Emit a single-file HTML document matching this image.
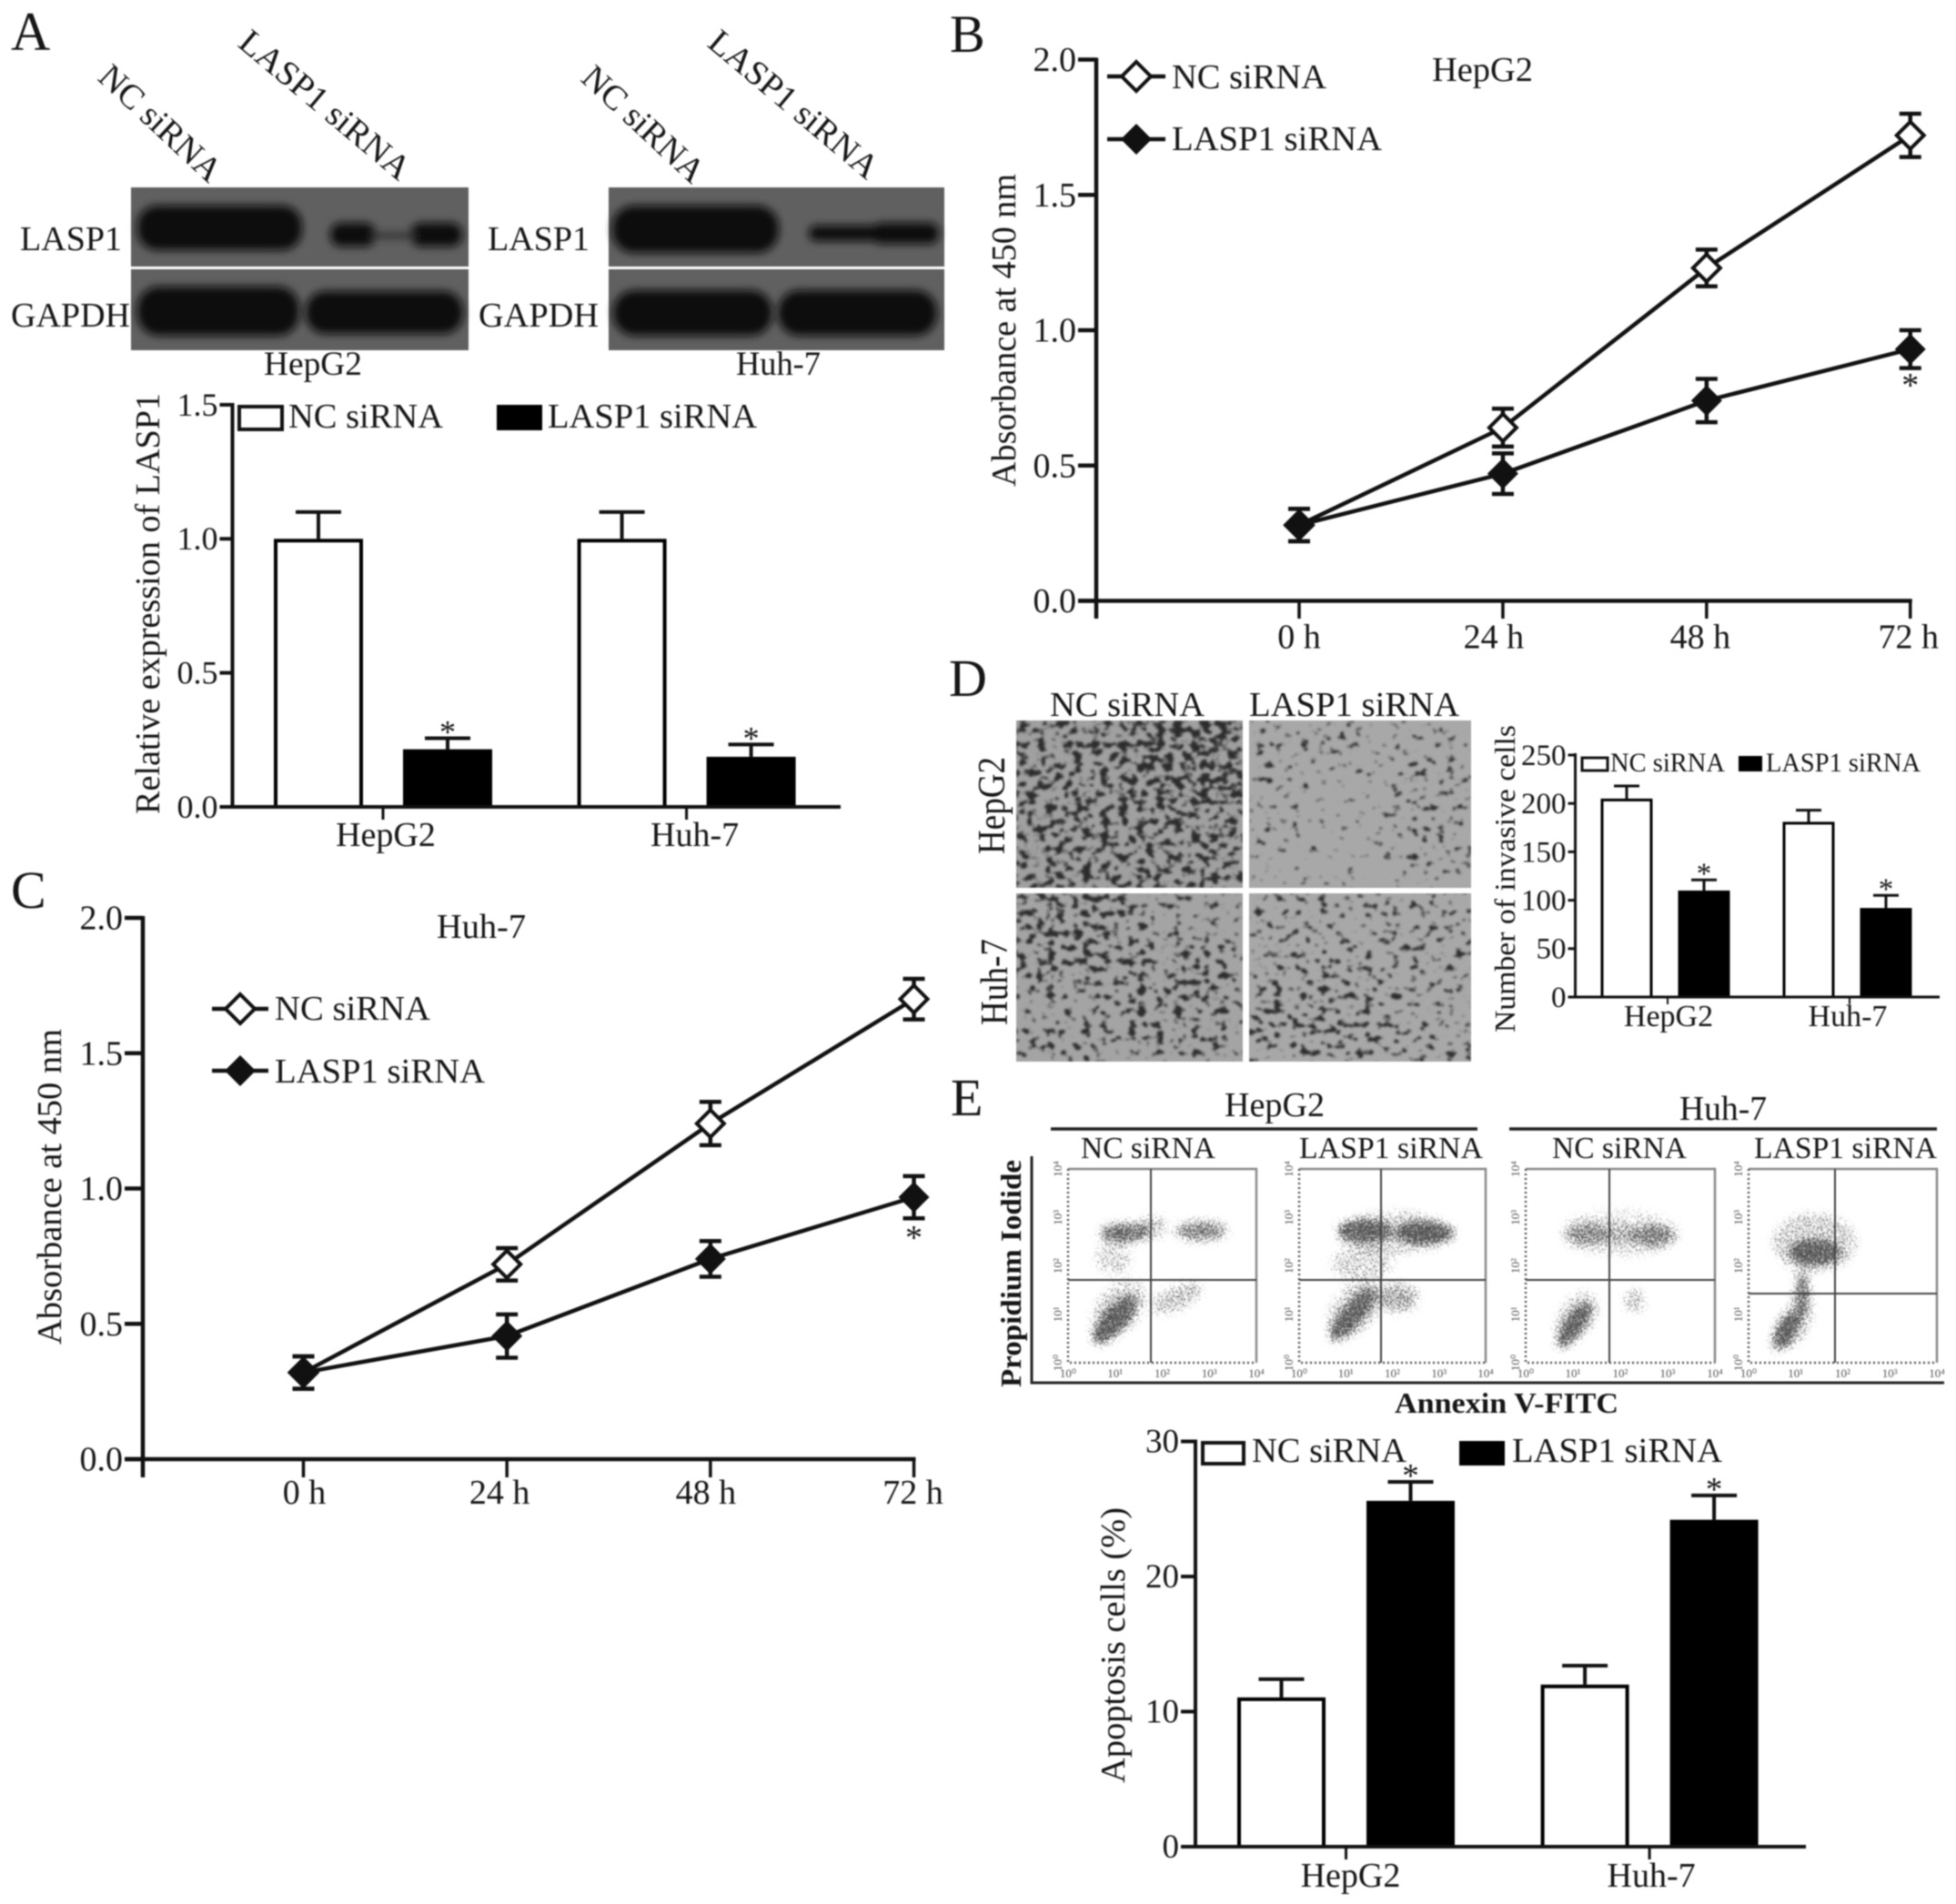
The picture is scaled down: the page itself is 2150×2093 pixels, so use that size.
<!DOCTYPE html>
<html lang="en">
<head>
<meta charset="utf-8">
<title>LASP1 siRNA figure</title>
<style>
html,body{margin:0;padding:0;background:#fff;}
svg{display:block;filter:blur(0.8px);}
text{font-family:"Liberation Serif",serif;fill:#161616;}
</style>
</head>
<body>
<svg id="figure" xmlns="http://www.w3.org/2000/svg" width="2150" height="2093" viewBox="0 0 2150 2093">
<defs>
  <filter id="bandBlur" x="-20%" y="-40%" width="140%" height="180%"><feGaussianBlur stdDeviation="4.5"/></filter>
  <filter id="cells1" filterUnits="userSpaceOnUse" x="1117" y="792" width="249" height="184" color-interpolation-filters="sRGB">
    <feGaussianBlur in="SourceGraphic" stdDeviation="12" result="b"/>
    <feTurbulence type="fractalNoise" baseFrequency="0.1 0.13" numOctaves="2" seed="4" result="n"/>
    <feComposite in="b" in2="n" operator="arithmetic" k1="0" k2="1" k3="1" k4="-1"/>
    <feComponentTransfer result="m"><feFuncA type="linear" slope="7"/></feComponentTransfer>
    <feFlood flood-color="#2c2c2c"/><feComposite in2="m" operator="in"/><feGaussianBlur stdDeviation="1"/>
  </filter>
  <filter id="cells2" filterUnits="userSpaceOnUse" x="1373" y="792" width="244" height="184" color-interpolation-filters="sRGB">
    <feGaussianBlur in="SourceGraphic" stdDeviation="12" result="b"/>
    <feTurbulence type="fractalNoise" baseFrequency="0.1 0.13" numOctaves="2" seed="11" result="n"/>
    <feComposite in="b" in2="n" operator="arithmetic" k1="0" k2="1" k3="1" k4="-1"/>
    <feComponentTransfer result="m"><feFuncA type="linear" slope="7"/></feComponentTransfer>
    <feFlood flood-color="#2c2c2c"/><feComposite in2="m" operator="in"/><feGaussianBlur stdDeviation="1"/>
  </filter>
  <filter id="cells3" filterUnits="userSpaceOnUse" x="1117" y="982" width="249" height="185" color-interpolation-filters="sRGB">
    <feGaussianBlur in="SourceGraphic" stdDeviation="12" result="b"/>
    <feTurbulence type="fractalNoise" baseFrequency="0.1 0.13" numOctaves="2" seed="23" result="n"/>
    <feComposite in="b" in2="n" operator="arithmetic" k1="0" k2="1" k3="1" k4="-1"/>
    <feComponentTransfer result="m"><feFuncA type="linear" slope="7"/></feComponentTransfer>
    <feFlood flood-color="#2c2c2c"/><feComposite in2="m" operator="in"/><feGaussianBlur stdDeviation="1"/>
  </filter>
  <filter id="cells4" filterUnits="userSpaceOnUse" x="1373" y="982" width="244" height="185" color-interpolation-filters="sRGB">
    <feGaussianBlur in="SourceGraphic" stdDeviation="12" result="b"/>
    <feTurbulence type="fractalNoise" baseFrequency="0.1 0.13" numOctaves="2" seed="37" result="n"/>
    <feComposite in="b" in2="n" operator="arithmetic" k1="0" k2="1" k3="1" k4="-1"/>
    <feComponentTransfer result="m"><feFuncA type="linear" slope="7"/></feComponentTransfer>
    <feFlood flood-color="#2c2c2c"/><feComposite in2="m" operator="in"/><feGaussianBlur stdDeviation="1"/>
  </filter>
  <filter id="stipple" filterUnits="userSpaceOnUse" x="1170" y="1280" width="965" height="225" color-interpolation-filters="sRGB">
    <feGaussianBlur in="SourceGraphic" stdDeviation="5" result="b"/>
    <feTurbulence type="fractalNoise" baseFrequency="0.6" numOctaves="2" seed="7" result="n"/>
    <feComponentTransfer in="n" result="n2"><feFuncA type="linear" slope="2.5" intercept="-0.75"/></feComponentTransfer>
    <feComposite in="b" in2="n2" operator="arithmetic" k1="0" k2="1" k3="1" k4="-1"/>
    <feComponentTransfer result="m"><feFuncA type="linear" slope="5"/></feComponentTransfer>
    <feFlood flood-color="#555555"/><feComposite in2="m" operator="in"/><feGaussianBlur stdDeviation="0.5"/>
  </filter>
</defs>
<rect width="2150" height="2093" fill="#fff"/>

<!-- Panel letters -->
<text x="12" y="55" font-size="60">A</text>
<text x="1044" y="57" font-size="58">B</text>
<text x="12" y="998" font-size="58">C</text>
<text x="1043" y="765" font-size="58">D</text>
<text x="1045" y="1226" font-size="58">E</text>

<!-- Panel A western blots -->
<g>
  <rect x="144" y="206" width="371" height="87" fill="#606060"/>
  <rect x="144" y="296" width="371" height="89" fill="#606060"/>
  <g filter="url(#bandBlur)" fill="#0f0f0f">
    <rect x="151" y="226" width="181" height="49" rx="22"/>
    <rect x="363" y="245" width="50" height="26" rx="12"/>
    <rect x="451" y="245" width="57" height="26" rx="12"/>
    <rect x="405" y="256" width="55" height="6" fill="#2a2a2a"/>
    <rect x="151" y="315" width="178" height="54" rx="24"/>
    <rect x="336" y="320" width="173" height="47" rx="22"/>
  </g>
</g>
<g>
  <rect x="669" y="206" width="369" height="87" fill="#606060"/>
  <rect x="669" y="296" width="369" height="89" fill="#606060"/>
  <g filter="url(#bandBlur)" fill="#0f0f0f">
    <rect x="673" y="226" width="183" height="52" rx="24"/>
    <rect x="889" y="248" width="141" height="17" rx="8"/>
    <rect x="958" y="245" width="74" height="23" rx="10"/>
    <rect x="674" y="319" width="175" height="50" rx="24"/>
    <rect x="855" y="319" width="175" height="50" rx="24"/>
  </g>
</g>
<text transform="translate(106,87) rotate(43)" font-size="38" textLength="169" lengthAdjust="spacingAndGlyphs">NC siRNA</text>
<text transform="translate(260,50) rotate(40)" font-size="38" textLength="233" lengthAdjust="spacingAndGlyphs">LASP1 siRNA</text>
<text transform="translate(637,88) rotate(43)" font-size="38" textLength="169" lengthAdjust="spacingAndGlyphs">NC siRNA</text>
<text transform="translate(776,50) rotate(40)" font-size="38" textLength="231" lengthAdjust="spacingAndGlyphs">LASP1 siRNA</text>
<text x="22" y="275" font-size="38" textLength="112" lengthAdjust="spacingAndGlyphs">LASP1</text>
<text x="12" y="359" font-size="38" textLength="131" lengthAdjust="spacingAndGlyphs">GAPDH</text>
<text x="536" y="275" font-size="38" textLength="112" lengthAdjust="spacingAndGlyphs">LASP1</text>
<text x="526" y="359" font-size="38" textLength="132" lengthAdjust="spacingAndGlyphs">GAPDH</text>
<text x="290" y="412" font-size="37" textLength="108" lengthAdjust="spacingAndGlyphs">HepG2</text>
<text x="809" y="412" font-size="37" textLength="93" lengthAdjust="spacingAndGlyphs">Huh-7</text>

<!-- Panel A chart text and legend -->
<text transform="translate(175,895) rotate(-90)" font-size="38" textLength="463" lengthAdjust="spacingAndGlyphs">Relative expression of LASP1</text>
<rect x="263" y="447" width="47" height="25" fill="#fff" stroke="#111" stroke-width="4"/>
<text x="317" y="470" font-size="38" textLength="170" lengthAdjust="spacingAndGlyphs">NC siRNA</text>
<rect x="546" y="445" width="50" height="28" fill="#000"/>
<text x="602" y="470" font-size="38" textLength="230" lengthAdjust="spacingAndGlyphs">LASP1 siRNA</text>

<!-- Panel B text and legend -->
<text transform="translate(1116,535) rotate(-90)" font-size="38" textLength="344" lengthAdjust="spacingAndGlyphs">Absorbance at 450 nm</text>
<text x="1574" y="89" font-size="38" textLength="111" lengthAdjust="spacingAndGlyphs">HepG2</text>
<line x1="1217" y1="84" x2="1281" y2="84" stroke="#111" stroke-width="4.5"/>
<path d="M1249 68 L1265 84 L1249 100 L1233 84 Z" fill="#fff" stroke="#111" stroke-width="4"/>
<text x="1288" y="97" font-size="38" textLength="170" lengthAdjust="spacingAndGlyphs">NC siRNA</text>
<line x1="1217" y1="153" x2="1281" y2="153" stroke="#111" stroke-width="4.5"/>
<path d="M1249 136 L1266 153 L1249 170 L1232 153 Z" fill="#111"/>
<text x="1288" y="165" font-size="38" textLength="231" lengthAdjust="spacingAndGlyphs">LASP1 siRNA</text>

<!-- Panel C text and legend -->
<text transform="translate(67,1478) rotate(-90)" font-size="38" textLength="347" lengthAdjust="spacingAndGlyphs">Absorbance at 450 nm</text>
<text x="480" y="1031" font-size="38" textLength="98" lengthAdjust="spacingAndGlyphs">Huh-7</text>
<line x1="233" y1="1109" x2="295" y2="1109" stroke="#111" stroke-width="4.5"/>
<path d="M264 1093 L280 1109 L264 1125 L248 1109 Z" fill="#fff" stroke="#111" stroke-width="4"/>
<text x="302" y="1121" font-size="38" textLength="171" lengthAdjust="spacingAndGlyphs">NC siRNA</text>
<line x1="233" y1="1177" x2="295" y2="1177" stroke="#111" stroke-width="4.5"/>
<path d="M264 1160 L281 1177 L264 1194 L247 1177 Z" fill="#111"/>
<text x="302" y="1190" font-size="38" textLength="231" lengthAdjust="spacingAndGlyphs">LASP1 siRNA</text>

<!-- Panel D micrographs -->
<g>
  <rect x="1117" y="792" width="249" height="184" fill="#a0a0a0"/>
  <rect x="1373" y="792" width="244" height="184" fill="#a8a8a8"/>
  <rect x="1117" y="982" width="249" height="185" fill="#a4a4a4"/>
  <rect x="1373" y="982" width="244" height="185" fill="#a8a8a8"/>
  <g id="cellLayer"></g>
</g>
<text x="1154" y="787" font-size="38" textLength="170" lengthAdjust="spacingAndGlyphs">NC siRNA</text>
<text x="1373" y="787" font-size="38" textLength="231" lengthAdjust="spacingAndGlyphs">LASP1 siRNA</text>
<text transform="translate(1104,939) rotate(-90)" font-size="42" textLength="107" lengthAdjust="spacingAndGlyphs">HepG2</text>
<text transform="translate(1107,1127) rotate(-90)" font-size="42" textLength="95" lengthAdjust="spacingAndGlyphs">Huh-7</text>

<!-- Panel D chart text and legend -->
<text transform="translate(1665,1135) rotate(-90)" font-size="32" textLength="338" lengthAdjust="spacingAndGlyphs">Number of invasive cells</text>
<rect x="1739" y="833" width="28" height="14" fill="#fff" stroke="#111" stroke-width="3"/>
<text x="1770" y="848" font-size="30" textLength="126" lengthAdjust="spacingAndGlyphs">NC siRNA</text>
<rect x="1911" y="831" width="26" height="17" fill="#000"/>
<text x="1941" y="848" font-size="30" textLength="170" lengthAdjust="spacingAndGlyphs">LASP1 siRNA</text>

<!-- Panel E flow cytometry headers -->
<text x="1346" y="1227" font-size="38" textLength="110" lengthAdjust="spacingAndGlyphs">HepG2</text>
<text x="1846" y="1231" font-size="38" textLength="96" lengthAdjust="spacingAndGlyphs">Huh-7</text>
<line x1="1155" y1="1241" x2="1624" y2="1241" stroke="#222" stroke-width="3.5"/>
<line x1="1659" y1="1241" x2="2129" y2="1241" stroke="#222" stroke-width="3.5"/>
<text x="1188" y="1273" font-size="34" textLength="148" lengthAdjust="spacingAndGlyphs">NC siRNA</text>
<text x="1428" y="1273" font-size="34" textLength="202" lengthAdjust="spacingAndGlyphs">LASP1 siRNA</text>
<text x="1706" y="1273" font-size="34" textLength="148" lengthAdjust="spacingAndGlyphs">NC siRNA</text>
<text x="1928" y="1273" font-size="34" textLength="201" lengthAdjust="spacingAndGlyphs">LASP1 siRNA</text>
<g id="flowLayer"></g>
<path d="M1134 1271 L1134 1520 L2137 1520" fill="none" stroke="#222" stroke-width="3"/>
<text transform="translate(1122,1525) rotate(-90)" font-size="32" font-weight="bold" textLength="250" lengthAdjust="spacingAndGlyphs">Propidium Iodide</text>
<text x="1533" y="1553" font-size="32" font-weight="bold" textLength="246" lengthAdjust="spacingAndGlyphs">Annexin V-FITC</text>

<!-- Panel E bar chart text and legend -->
<text transform="translate(1236,1960) rotate(-90)" font-size="38" textLength="303" lengthAdjust="spacingAndGlyphs">Apoptosis cells (%)</text>
<rect x="1322" y="1586" width="45" height="23" fill="#fff" stroke="#111" stroke-width="4"/>
<text x="1376" y="1607" font-size="38" textLength="170" lengthAdjust="spacingAndGlyphs">NC siRNA</text>
<rect x="1604" y="1584" width="50" height="27" fill="#000"/>
<text x="1662" y="1607" font-size="38" textLength="231" lengthAdjust="spacingAndGlyphs">LASP1 siRNA</text>

<g id="chartLayer"></g>
</svg>

<script>
// ---------- Chart data ----------
const barCategories = ['HepG2', 'Huh-7'];

const expressionTicks = [0, 0.5, 1, 1.5];
const expressionTickLabels = ['0.0', '0.5', '1.0', '1.5'];
const expressionNc = [1.0, 1.0];
const expressionNcErr = [0.10, 0.10];
const expressionLasp = [0.215, 0.187];
const expressionLaspErr = [0.041, 0.046];

const invasionTicks = [0, 50, 100, 150, 200, 250];
const invasionTickLabels = ['0', '50', '100', '150', '200', '250'];
const invasionNc = [205, 181];
const invasionNcErr = [13, 12];
const invasionLasp = [110, 92];
const invasionLaspErr = [11, 13];

const apoptosisTicks = [0, 10, 20, 30];
const apoptosisTickLabels = ['0', '10', '20', '30'];
const apoptosisNc = [11.05, 12.0];
const apoptosisNcErr = [1.35, 1.4];
const apoptosisLasp = [25.6, 24.2];
const apoptosisLaspErr = [1.4, 1.8];

const hours = [0, 24, 48, 72];
const hourLabels = ['0 h', '24 h', '48 h', '72 h'];
const absTicks = [0, 0.5, 1, 1.5, 2];
const absTickLabels = ['0.0', '0.5', '1.0', '1.5', '2.0'];

const hepNc = [0.28, 0.64, 1.23, 1.72];
const hepNcErr = [0.06, 0.07, 0.068, 0.08];
const hepLasp = [0.28, 0.47, 0.74, 0.93];
const hepLaspErr = [0.06, 0.075, 0.08, 0.07];

const huhNc = [0.32, 0.72, 1.24, 1.70];
const huhNcErr = [0.06, 0.06, 0.08, 0.075];
const huhLasp = [0.32, 0.455, 0.74, 0.968];
const huhLaspErr = [0.06, 0.08, 0.066, 0.078];

const flowDecadeLabels = ['10\u2070', '10\u00b9', '10\u00b2', '10\u00b3', '10\u2074'];
// Cell-population density regions per flow plot: centre x, centre y (fractions), radii, rotation, density
const flowNcHepClusters = [[.246,.78,34,13,-49,1],[.30,.33,28,11,0,.85],[.706,.32,29,11,0,.72],[.577,.664,30,13,-25,.42],[.24,.46,20,18,0,.3],[.445,.30,16,12,0,.42],[.27,.72,36,24,-49,.35]];
const flowLaspHepClusters = [[.287,.75,37,12,-50,.98],[.35,.32,31,13,0,.95],[.675,.33,33,13,0,1],[.335,.49,34,18,0,.32],[.53,.665,22,16,0,.55],[.5,.33,60,24,0,.32],[.3,.72,38,24,-50,.32]];
const flowNcHuhClusters = [[.257,.805,30,11,-55,.98],[.325,.336,24,13,0,.62],[.675,.344,24,13,0,.68],[.575,.68,11,13,0,.42],[.5,.34,20,13,0,.42],[.5,.33,66,26,0,.2],[.27,.76,30,20,-55,.3]];
const flowLaspHuhClusters = [[.2,.836,24,11,-60,.98],[.285,.648,8,26,0,.85],[.352,.43,28,14,0,1],[.35,.38,46,32,0,.38],[.24,.8,30,18,-60,.3]];

// Cell-density regions for micrographs: base density first, then centre x, centre y, radii (fractions), extra density
const microHepNc = [[.5,.5,.9,.9,.50],[.8,.2,.3,.3,.1]];
const microHepLasp = [[.5,.5,.9,.9,.33],[.82,.5,.22,.5,.12],[.25,.12,.3,.18,.12],[.1,.5,.14,.3,.08]];
const microHuhNc = [[.5,.5,.9,.9,.40],[.2,.2,.35,.35,.16],[.72,.6,.28,.35,.12],[.15,.85,.3,.25,.06]];
const microHuhLasp = [[.5,.5,.9,.9,.41],[.3,.7,.35,.3,.08]];

// ---------- helpers ----------
const NS = 'http://www.w3.org/2000/svg';
function mk(parent, tag, attrs, text) {
  const el = document.createElementNS(NS, tag);
  for (const k in attrs) el.setAttribute(k, attrs[k]);
  if (text !== undefined) el.textContent = text;
  parent.appendChild(el);
  return el;
}
const chartLayer = document.getElementById('chartLayer');

function drawYAxis(g, ax, ticks, labels, key) {
  const scale = v => ax.y0 - v * ax.unit;
  const spine = mk(g, 'line', {x1: ax.x, y1: scale(ticks[ticks.length - 1]) - 2, x2: ax.x, y2: ax.spineBottom, stroke: '#111', 'stroke-width': ax.sw});
  
  
  ticks.forEach((t, i) => {
    const tick = mk(g, 'line', {x1: ax.x - ax.tickLen, y1: scale(t), x2: ax.x, y2: scale(t), stroke: '#111', 'stroke-width': ax.sw});
    
    
    const lab = mk(g, 'text', {x: ax.x - ax.tickLen - 2, y: scale(t) + ax.fs * 0.33, 'text-anchor': 'end', 'font-size': ax.fs}, labels[i]);
    
    
  });
}

function drawBars(key, ax, band, ticks, tickLabels, nc, ncErr, lasp, laspErr) {
  const g = mk(chartLayer, 'g', {});
  
  
  const scale = v => ax.y0 - v * ax.unit;
  const series = [{name: 'nc', vals: nc, errs: ncErr, fill: '#fff', off: band.ncOff}, {name: 'lasp1', vals: lasp, errs: laspErr, fill: '#000', off: band.laspOff}];
  series.forEach(s => {
    s.vals.forEach((v, i) => {
      const left = band.x0 + i * band.step + s.off;
      const cx = left + band.w / 2;
      const top = scale(v);
      const errTop = scale(v + s.errs[i]);
      const stem = mk(g, 'line', {x1: cx, y1: top, x2: cx, y2: errTop, stroke: '#111', 'stroke-width': band.errSw});
      
      
      const cap = mk(g, 'line', {x1: cx - band.cap, y1: errTop, x2: cx + band.cap, y2: errTop, stroke: '#111', 'stroke-width': band.errSw});
      
      
      const barTop = top + band.sw / 2;
      const bar = mk(g, 'rect', {x: left + band.sw / 2, y: barTop, width: band.w - band.sw, height: ax.y0 - barTop, fill: s.fill, stroke: '#000', 'stroke-width': band.sw});
      
      
      if (s.name === 'lasp1') {
        const star = mk(g, 'text', {x: cx, y: errTop - 12 + ax.fs * 0.47, 'text-anchor': 'middle', 'font-size': ax.fs}, '*');
        
        
      }
    });
  });
  drawYAxis(g, ax, ticks, tickLabels, key);
  const base = mk(g, 'line', {x1: ax.x - ax.tickLen, y1: ax.y0, x2: ax.xEnd, y2: ax.y0, stroke: '#111', 'stroke-width': ax.sw});
  
  
  barCategories.forEach((c, i) => {
    const tx = band.x0 + i * band.step + band.tickOff;
    const tick = mk(g, 'line', {x1: tx, y1: ax.y0, x2: tx, y2: ax.y0 + band.tickLen, stroke: '#111', 'stroke-width': ax.sw - 1});
    
    
    const lab = mk(g, 'text', {x: tx + band.labelOff[i], y: ax.y0 + band.labelDrop, 'text-anchor': 'middle', 'font-size': ax.catFs}, c);
    
    
  });
}

function drawLines(key, ax, nc, ncErr, lasp, laspErr) {
  const g = mk(chartLayer, 'g', {});
  
  
  const yS = v => ax.y0 - v * ax.unit;
  const xS = h => ax.x0 + h * ax.perHour;
  drawYAxis(g, ax, absTicks, absTickLabels, key);
  const base = mk(g, 'line', {x1: ax.x - ax.tickLen, y1: ax.y0, x2: xS(hours[hours.length - 1]) + 2, y2: ax.y0, stroke: '#111', 'stroke-width': ax.sw});
  
  
  hours.forEach((h, i) => {
    const tick = mk(g, 'line', {x1: xS(h), y1: ax.y0, x2: xS(h), y2: ax.spineBottom, stroke: '#111', 'stroke-width': ax.sw - 1});
    
    
    const lab = mk(g, 'text', {x: xS(h) + ax.labelOff[i], y: ax.y0 + ax.labelDrop, 'text-anchor': 'middle', 'font-size': ax.fs}, hourLabels[i]);
    
    
  });
  const series = [{name: 'nc', vals: nc, errs: ncErr, open: true}, {name: 'lasp1', vals: lasp, errs: laspErr, open: false}];
  series.forEach(s => {
    const path = mk(g, 'polyline', {points: s.vals.map((v, i) => xS(hours[i]) + ',' + yS(v)).join(' '), fill: 'none', stroke: '#111', 'stroke-width': 4.5});
    
    
  });
  series.forEach(s => {
    s.vals.forEach((v, i) => {
      const x = xS(hours[i]);
      const y = yS(v);
      const hi = yS(v + s.errs[i]);
      const lo = yS(v - s.errs[i]);
      const err = mk(g, 'path', {d: 'M' + (x - 12) + ' ' + hi + 'H' + (x + 12) + 'M' + x + ' ' + hi + 'V' + lo + 'M' + (x - 12) + ' ' + lo + 'H' + (x + 12), fill: 'none', stroke: '#111', 'stroke-width': 4.5});
      
      
      const r = s.open ? 15 : 17;
      const mark = mk(g, 'path', {d: 'M' + x + ' ' + (y - r) + 'L' + (x + r) + ' ' + y + 'L' + x + ' ' + (y + r) + 'L' + (x - r) + ' ' + y + 'Z', fill: s.open ? '#fff' : '#111', stroke: '#111', 'stroke-width': s.open ? 4 : 0});
      
      
    });
  });
  const last = hours.length - 1;
  const star = mk(g, 'text', {x: xS(hours[last]), y: yS(lasp[last]) + ax.starDrop + 18, 'text-anchor': 'middle', 'font-size': 38, fill: '#333'}, '*');
  
  
}

// ---------- charts ----------
drawBars('a',
  {x: 255.5, y0: 887, unit: 294.7, tickLen: 14, sw: 4, fs: 36, catFs: 38, xEnd: 924, spineBottom: 889},
  {x0: 301, step: 333.6, ncOff: 0, laspOff: 142, w: 98, sw: 4, errSw: 4, cap: 25, tickOff: 120, tickLen: 14, labelDrop: 43, labelOff: [3, 9]},
  expressionTicks, expressionTickLabels, expressionNc, expressionNcErr, expressionLasp, expressionLaspErr);

drawBars('d',
  {x: 1731.5, y0: 1096, unit: 1.064, tickLen: 8, sw: 3, fs: 33, catFs: 34, xEnd: 2132, spineBottom: 1097},
  {x0: 1759.5, step: 200, ncOff: 0, laspOff: 85, w: 57, sw: 3, errSw: 3, cap: 14, tickOff: 73.5, tickLen: 8, labelDrop: 32, labelOff: [1, -2]},
  invasionTicks, invasionTickLabels, invasionNc, invasionNcErr, invasionLasp, invasionLaspErr);

drawBars('e',
  {x: 1314, y0: 2030, unit: 14.85, tickLen: 16, sw: 4, fs: 37, catFs: 38, xEnd: 1985, spineBottom: 2032},
  {x0: 1360, step: 333.6, ncOff: 0, laspOff: 142, w: 97, sw: 4, errSw: 4, cap: 25, tickOff: 119.5, tickLen: 14, labelDrop: 44, labelOff: [5, 2]},
  apoptosisTicks, apoptosisTickLabels, apoptosisNc, apoptosisNcErr, apoptosisLasp, apoptosisLaspErr);

drawLines('b',
  {x: 1205, y0: 660.5, unit: 297.5, tickLen: 20, sw: 4.5, fs: 38, x0: 1428, perHour: 9.33, spineBottom: 680, labelDrop: 52, starDrop: 34, labelOff: [0, -10, -7, -2]},
  hepNc, hepNcErr, hepLasp, hepLaspErr);

drawLines('c',
  {x: 157, y0: 1604, unit: 297.5, tickLen: 20, sw: 4.5, fs: 38, x0: 333.5, perHour: 9.32, spineBottom: 1624, labelDrop: 49, starDrop: 39, labelOff: [1, -8, -5, -1]},
  huhNc, huhNcErr, huhLasp, huhLaspErr);

// ---------- micrographs ----------
const cellLayer = document.getElementById('cellLayer');
function drawCells(key, filterId, bx, by, bw, bh, patches) {
  const g = mk(cellLayer, 'g', {filter: 'url(#' + filterId + ')'});
  
  
  patches.forEach((p, i) => {
    const e = mk(g, 'ellipse', {cx: bx + p[0] * bw, cy: by + p[1] * bh, rx: p[2] * bw, ry: p[3] * bh, fill: '#000', 'fill-opacity': p[4]});
    
    
  });
}
drawCells('hepg2-nc', 'cells1', 1117, 792, 249, 184, microHepNc);
drawCells('hepg2-lasp1', 'cells2', 1373, 792, 244, 184, microHepLasp);
drawCells('huh7-nc', 'cells3', 1117, 982, 249, 185, microHuhNc);
drawCells('huh7-lasp1', 'cells4', 1373, 982, 244, 185, microHuhLasp);

// ---------- flow cytometry ----------
const flowLayer = document.getElementById('flowLayer');
function drawFlow(key, left, right, top, bottom, vx, hy, clusters) {
  const w = right - left;
  const h = bottom - top;
  const g = mk(flowLayer, 'g', {});
  
  
  const dots = mk(g, 'g', {filter: 'url(#stipple)'});
  
  
  clusters.forEach((c, i) => {
    const cx = left + c[0] * w;
    const cy = top + c[1] * h;
    const e = mk(dots, 'ellipse', {cx: cx, cy: cy, rx: c[2], ry: c[3], fill: '#000', 'fill-opacity': c[5], transform: 'rotate(' + c[4] + ' ' + cx + ' ' + cy + ')'});
    
    
  });
  const frame = mk(g, 'path', {d: 'M' + left + ' ' + top + 'H' + right + 'V' + bottom, fill: 'none', stroke: '#8a8a8a', 'stroke-width': 2.5});
  
  
  const axisDots = mk(g, 'path', {d: 'M' + left + ' ' + top + 'V' + bottom + 'H' + right, fill: 'none', stroke: '#555', 'stroke-width': 2.5, 'stroke-dasharray': '2 3'});
  
  
  const vline = mk(g, 'line', {x1: vx, y1: top, x2: vx, y2: bottom, stroke: '#444', 'stroke-width': 2});
  
  
  const hline = mk(g, 'line', {x1: left, y1: hy, x2: right, y2: hy, stroke: '#444', 'stroke-width': 2});
  
  
  flowDecadeLabels.forEach((t, i) => {
    const lx = mk(g, 'text', {x: left + i * w / 4, y: bottom + 16, 'text-anchor': 'middle', 'font-size': 13, style: 'fill:#555'}, t);
    
    
    const ly = mk(g, 'text', {transform: 'translate(' + (left - 7) + ',' + (bottom - i * h / 4) + ') rotate(-90)', 'text-anchor': 'middle', 'font-size': 13, style: 'fill:#555'}, t);
    
    
  });
}
drawFlow('hepg2-nc', 1174, 1381, 1285, 1498, 1265, 1407, flowNcHepClusters);
drawFlow('hepg2-lasp1', 1428, 1633, 1285, 1498, 1518, 1407, flowLaspHepClusters);
drawFlow('huh7-nc', 1677, 1885, 1285, 1498, 1769, 1407, flowNcHuhClusters);
drawFlow('huh7-lasp1', 1922, 2129, 1285, 1498, 2017, 1422, flowLaspHuhClusters);
</script>
</body>
</html>
